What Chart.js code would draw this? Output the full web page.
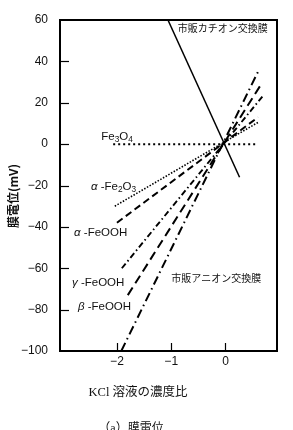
<!DOCTYPE html>
<html><head><meta charset="utf-8">
<script src="https://cdn.jsdelivr.net/npm/chart.js@4/dist/chart.umd.min.js"></script>
<style>html,body{margin:0;padding:0;background:#fff;overflow:hidden}#wrap{width:293px;height:430px;position:relative}</style>
</head><body><div id="wrap"><canvas id="c" width="293" height="430"></canvas></div>
<script>
// ---- data ----
const seriesNames = ['市販カチオン交換膜', 'Fe3O4', 'α-Fe2O3', 'α-FeOOH', 'γ-FeOOH', 'β-FeOOH', '市販アニオン交換膜'];
const cationX = [-1.06, 0.26];   const cationY = [60, -16];
const fe3o4X  = [-2.07, 0.55];   const fe3o4Y  = [0, 0];
const aFe2o3X = [-2.04, 0.60];   const aFe2o3Y = [-30, 10.5];
const aFeoohX = [-2.00, 0.60];   const aFeoohY = [-38, 13];
const gFeoohX = [-1.91, 0.68];   const gFeoohY = [-60, 23];
const bFeoohX = [-1.80, 0.66];   const bFeoohY = [-73, 29];
const anionX  = [-1.92, 0.60];   const anionY  = [-100, 35];
const xTicks = [-2, -1, 0];
const yTicks = [60, 40, 20, 0, -20, -40, -60, -80, -100];
const xTitle = 'KCl 溶液の濃度比';
const yTitle = '膜電位(mV)';
const caption = '（a）膜電位';

const pts = (xs, ys) => xs.map((v, i) => ({x: v, y: ys[i]}));
const seriesData = [
  pts(cationX, cationY), pts(fe3o4X, fe3o4Y), pts(aFe2o3X, aFe2o3Y), pts(aFeoohX, aFeoohY),
  pts(gFeoohX, gFeoohY), pts(bFeoohX, bFeoohY), pts(anionX, anionY)
];
const styles = [
  {w: 1.5, d: []},
  {w: 2.0, d: [2, 3]},
  {w: 1.6, d: [1.5, 1.6]},
  {w: 2.0, d: [7, 4]},
  {w: 1.9, d: [6, 3, 1.5, 3]},
  {w: 2.0, d: [9, 5]},
  {w: 2.0, d: [9, 4, 1.5, 4]}
];

const minus = v => String(v).replace('-', '\u2212');

function rich(ctx, segs, x, yMid, size) {
  let cx = x;
  segs.forEach(s => {
    const fs = s.sub ? size * 0.72 : size;
    ctx.font = (s.it ? 'italic ' : '') + fs + "px 'Liberation Sans', 'DejaVu Sans'";
    ctx.textBaseline = 'alphabetic';
    ctx.textAlign = 'left';
    const base = yMid + size * 0.36 + (s.sub ? size * 0.22 : 0);
    ctx.fillText(s.t, cx, base);
    cx += ctx.measureText(s.t).width;
  });
}

const labelLayout = [
  {segs: [{t: 'Fe'}, {t: '3', sub: 1}, {t: 'O'}, {t: '4', sub: 1}], x: -2.29, y: 4.2},
  {segs: [{t: 'α', it: 1}, {t: ' -Fe'}, {t: '2', sub: 1}, {t: 'O'}, {t: '3', sub: 1}], x: -2.48, y: -20},
  {segs: [{t: 'α', it: 1}, {t: ' -FeOOH'}], x: -2.79, y: -42.6},
  {segs: [{t: 'γ', it: 1}, {t: ' -FeOOH'}], x: -2.83, y: -66.8},
  {segs: [{t: 'β', it: 1}, {t: ' -FeOOH'}], x: -2.72, y: -78.2}
];

const decor = {
  id: 'decor',
  afterDraw(chart) {
    const {ctx, chartArea: a, scales: {x, y}} = chart;
    ctx.save();
    ctx.strokeStyle = '#000';
    ctx.fillStyle = '#111';
    ctx.setLineDash([]);
    ctx.lineWidth = 2;
    ctx.strokeRect(a.left, a.top, a.right - a.left, a.bottom - a.top);
    ctx.lineWidth = 1.2;
    yTicks.forEach(v => {
      if (v === 60 || v === -100) return;
      const py = Math.round(y.getPixelForValue(v)) + 0.5;
      ctx.beginPath(); ctx.moveTo(a.left, py); ctx.lineTo(a.left + 9, py); ctx.stroke();
    });
    xTicks.forEach(v => {
      const px = Math.round(x.getPixelForValue(v)) + 0.5;
      ctx.beginPath(); ctx.moveTo(px, a.bottom); ctx.lineTo(px, a.bottom - 8); ctx.stroke();
    });
    // series labels
    labelLayout.forEach(l => rich(ctx, l.segs, x.getPixelForValue(l.x), y.getPixelForValue(l.y), 11.5));
    ctx.font = "10px 'Noto Sans CJK JP'";
    ctx.textAlign = 'left'; ctx.textBaseline = 'middle';
    ctx.fillText(seriesNames[0], x.getPixelForValue(-0.88), y.getPixelForValue(56.1));
    ctx.fillText(seriesNames[6], x.getPixelForValue(-1.0), y.getPixelForValue(-64.6));
    // axis titles
    ctx.save();
    ctx.translate(13, 196);
    ctx.rotate(-Math.PI / 2);
    ctx.font = "bold 12px 'Noto Sans CJK JP'";
    ctx.textAlign = 'center'; ctx.textBaseline = 'middle';
    ctx.fillText(yTitle, 0, 0);
    ctx.restore();
    ctx.font = "12.5px 'Liberation Serif', 'Noto Sans CJK JP'";
    ctx.textAlign = 'center'; ctx.textBaseline = 'middle';
    ctx.fillText(xTitle, 138, 393);
    ctx.font = "12px 'Liberation Serif', 'Noto Sans CJK JP'";
    ctx.fillText(caption, 131, 429);
    ctx.restore();
  }
};

new Chart(document.getElementById('c'), {
  type: 'scatter',
  data: {
    datasets: seriesData.map((d, i) => ({
      label: seriesNames[i],
      data: d,
      showLine: true,
      borderColor: '#000',
      backgroundColor: '#000',
      borderWidth: styles[i].w,
      borderDash: styles[i].d,
      borderCapStyle: 'butt',
      pointRadius: 0,
      fill: false,
      tension: 0
    }))
  },
  options: {
    responsive: false,
    devicePixelRatio: 1,
    animation: false,
    layout: {padding: {top: 20, right: 16, left: 0, bottom: 0}},
    plugins: {legend: {display: false}, tooltip: {enabled: false}},
    scales: {
      x: {
        type: 'linear', min: -3.05, max: 0.95,
        afterBuildTicks: s => { s.ticks = xTicks.map(v => ({value: v})); },
        afterFit: s => { s.height = 79; },
        grid: {display: false, drawTicks: false},
        border: {display: true, color: '#000', width: 2},
        ticks: {padding: 3, color: '#111', font: {family: "'Liberation Sans'", size: 12}, callback: v => minus(v), maxRotation: 0, autoSkip: false}
      },
      y: {
        type: 'linear', min: -100, max: 60,
        afterBuildTicks: s => { s.ticks = yTicks.map(v => ({value: v})); },
        afterFit: s => { s.width = 60; },
        grid: {display: false, drawTicks: false},
        border: {display: true, color: '#000', width: 2},
        ticks: {padding: 12, color: '#111', font: {family: "'Liberation Sans'", size: 12}, callback: v => minus(v), autoSkip: false}
      }
    }
  },
  plugins: [decor]
});
</script>
</body></html>
